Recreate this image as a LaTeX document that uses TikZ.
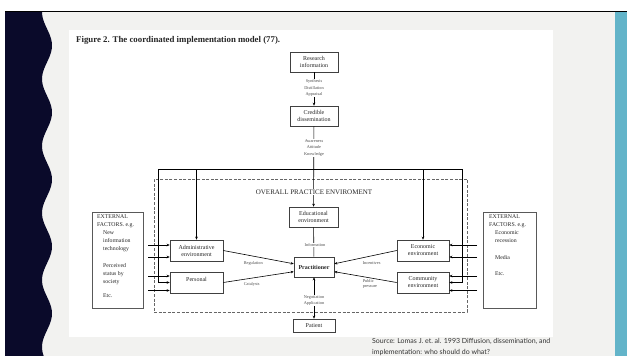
\documentclass[tikz,border=0pt]{standalone}
\usepackage{fontspec}
\setmainfont{Liberation Serif}
\newfontfamily\srcfont{Lato}
\usetikzlibrary{arrows.meta,shadows}
\definecolor{navy}{RGB}{10,10,42}
\definecolor{tealband}{RGB}{99,180,201}
\definecolor{bggray}{RGB}{242,242,240}
\tikzset{
  box/.style={draw=black!75, line width=0.6pt, fill=white, align=center, inner sep=0pt,
    font=\fontsize{6}{7}\selectfont, text=black!85,
    drop shadow={shadow xshift=0.7pt, shadow yshift=-0.7pt, fill=black!55, opacity=1}},
  lab/.style={font=\fontsize{4.3}{6.3}\selectfont, align=center, text=black!70, inner sep=0.6pt},
  arr/.style={-{Stealth[length=3pt,width=2.6pt]}, line width=0.6pt},
  ln/.style={line width=0.6pt},
  extbox/.style={draw=black!65, line width=0.7pt, fill=white, inner sep=0pt},
  exttext/.style={font=\fontsize{5.8}{8.1}\selectfont, align=left, text=black!85, inner sep=0pt, anchor=north west}
}
\begin{document}
\begin{tikzpicture}[x=1pt,y=-1pt]
\useasboundingbox (0,0) rectangle (627,356);
% background
\fill[white] (0,0) rectangle (627,356);
\fill[bggray] (5,12) rectangle (627,356);
\fill[tealband] (615,12) rectangle (627,356);
\fill[navy] (5,12) -- plot[domain=12:356,samples=160] ({47-5*cos(5.3731*(\x-12))},\x) -- (5,356) -- cycle;
\draw[line width=1.5pt] (5,11.5) -- (627,11.5);
\fill[white] (69,30) rectangle (553,337);

% title
\node[anchor=west, inner sep=0pt, font=\bfseries\fontsize{8.8}{10}\selectfont, text=black!85] (title) at (76,40) {Figure 2. The coordinated implementation model (77).};

% dashed environment
\node[draw=black!60, dash pattern=on 3pt off 1.6pt, line width=0.6pt, minimum width=313pt, minimum height=133pt, inner sep=0pt] (env) at (310.5,245.5) {};

% boxes
\node[box, minimum width=48pt, minimum height=20pt] (res) at (314,62) {Research\\information};
\node[box, minimum width=48pt, minimum height=20pt] (cred) at (314,116) {Credible\\dissemination};
\node[box, minimum width=49pt, minimum height=20pt] (edu) at (313.5,217) {Educational\\environment};
\node[box, minimum width=40pt, minimum height=20pt, font=\bfseries\fontsize{6}{7}\selectfont] (pract) at (314,267) {Practitioner};
\node[box, minimum width=53pt, minimum height=21pt] (adm) at (196.5,250.5) {Administrative\\environment};
\node[box, minimum width=53pt, minimum height=21pt] (pers) at (196.5,282.5) {Personal\\\mbox{}};
\node[box, minimum width=52pt, minimum height=21pt] (econ) at (423,250.5) {Economic\\environment};
\node[box, minimum width=52pt, minimum height=21pt] (comm) at (423,282.5) {Community\\environment};
\node[box, minimum width=42pt, minimum height=13pt] (pat) at (314,325.5) {Patient};

% external factor boxes
\node[extbox, minimum width=51pt, minimum height=96pt] (extL) at (117.5,260) {};
\node[extbox, minimum width=53pt, minimum height=96pt] (extR) at (509.5,260) {};
\node[exttext] (extLt) at (97,214.5) {EXTERNAL\\FACTORS. e.g.\\\hspace*{6pt}New\\\hspace*{6pt}information\\\hspace*{6pt}technology\\[8.1pt]\hspace*{6pt}Perceived\\\hspace*{6pt}status by\\\hspace*{6pt}society\\[6pt]\hspace*{6pt}Etc.};
\node[exttext] (extRt) at (489,214.5) {EXTERNAL\\FACTORS. e.g.\\\hspace*{6pt}Economic\\\hspace*{6pt}recession\\[8.1pt]\hspace*{6pt}Media\\[8.1pt]\hspace*{6pt}Etc.};

% frame lines from top
\coordinate (tl) at (158,169);
\coordinate (tr) at (462,169);
\draw[ln] (tl) -- (tr);
\draw[arr] (tl) |- (pers.west);
\draw[arr] (tr) |- (comm.east);
\draw[arr] (adm.north |- tl) -- (adm.north);
\draw[arr] (econ.north |- tr) -- (econ.north);

% vertical chain
\draw[arr] (res) -- (cred);
\draw[arr] (cred) -- (edu);
\draw[ln] (edu) -- (pract);
\draw[{Stealth[length=3pt,width=2.6pt]}-{Stealth[length=3pt,width=2.6pt]}, line width=0.6pt] (pract) -- (pat);

% into practitioner
\draw[arr] (adm.east) -- (pract.171);
\draw[arr] (pers.east) -- (pract.193);
\draw[arr] (econ.west) -- (pract.9);
\draw[arr] (comm.west) -- (pract.347);

% external arrows
\coordinate (la) at (148,245);
\coordinate (lb) at (148,257);
\coordinate (lc) at (148,276);
\coordinate (ld) at (148,290.5);
\coordinate (ra) at (477,245);
\coordinate (rb) at (477,257);
\coordinate (rc) at (477,276);
\coordinate (rd) at (477,290.5);
\draw[arr] (la) -- (adm.west |- la);
\draw[arr] (lb) -- (adm.west |- lb);
\draw[arr] (lc) -- (pers.west |- lc);
\draw[arr] (ld) -- (pers.west |- ld);
\draw[arr] (ra) -- (econ.east |- ra);
\draw[arr] (rb) -- (econ.east |- rb);
\draw[arr] (rc) -- (comm.east |- rc);
\draw[arr] (rd) -- (comm.east |- rd);

% labels
\node[fill=white, inner sep=1pt, font=\fontsize{7}{8}\selectfont, text=black!85] (ov) at (314,192) {OVERALL PRACTICE ENVIROMENT};
\node[lab, fill=white] (lsyn) at (314,88) {Synthesis\\Distillation\\Appraisal};
\node[lab, fill=white] (law) at (314,148) {Awareness\\Attitude\\Knowledge};
\node[lab, fill=white] (linf) at (315,245) {Information};
\node[lab, fill=white, font=\fontsize{4.3}{5.5}\selectfont] (lneg) at (314,300.5) {Negotiation\\Application};
\node[lab, anchor=west] (lreg) at (243,263) {Regulation};
\node[lab, anchor=west] (lcat) at (243,284.5) {Catalysts};
\node[lab, anchor=west] (linc) at (362,263) {Incentives};
\node[lab, anchor=west, align=left, font=\fontsize{4.3}{5.5}\selectfont] (lpub) at (362,284) {Public\\pressure};

% source
\node[anchor=base west, inner sep=0pt, align=left, font=\srcfont\fontsize{7}{11.5}\selectfont, text=black!80] (src) at (372,354.5) {Source: Lomas J. et.\ al. 1993 Diffusion, dissemination, and\\implementation: who should do what?};
\end{tikzpicture}
\end{document}
